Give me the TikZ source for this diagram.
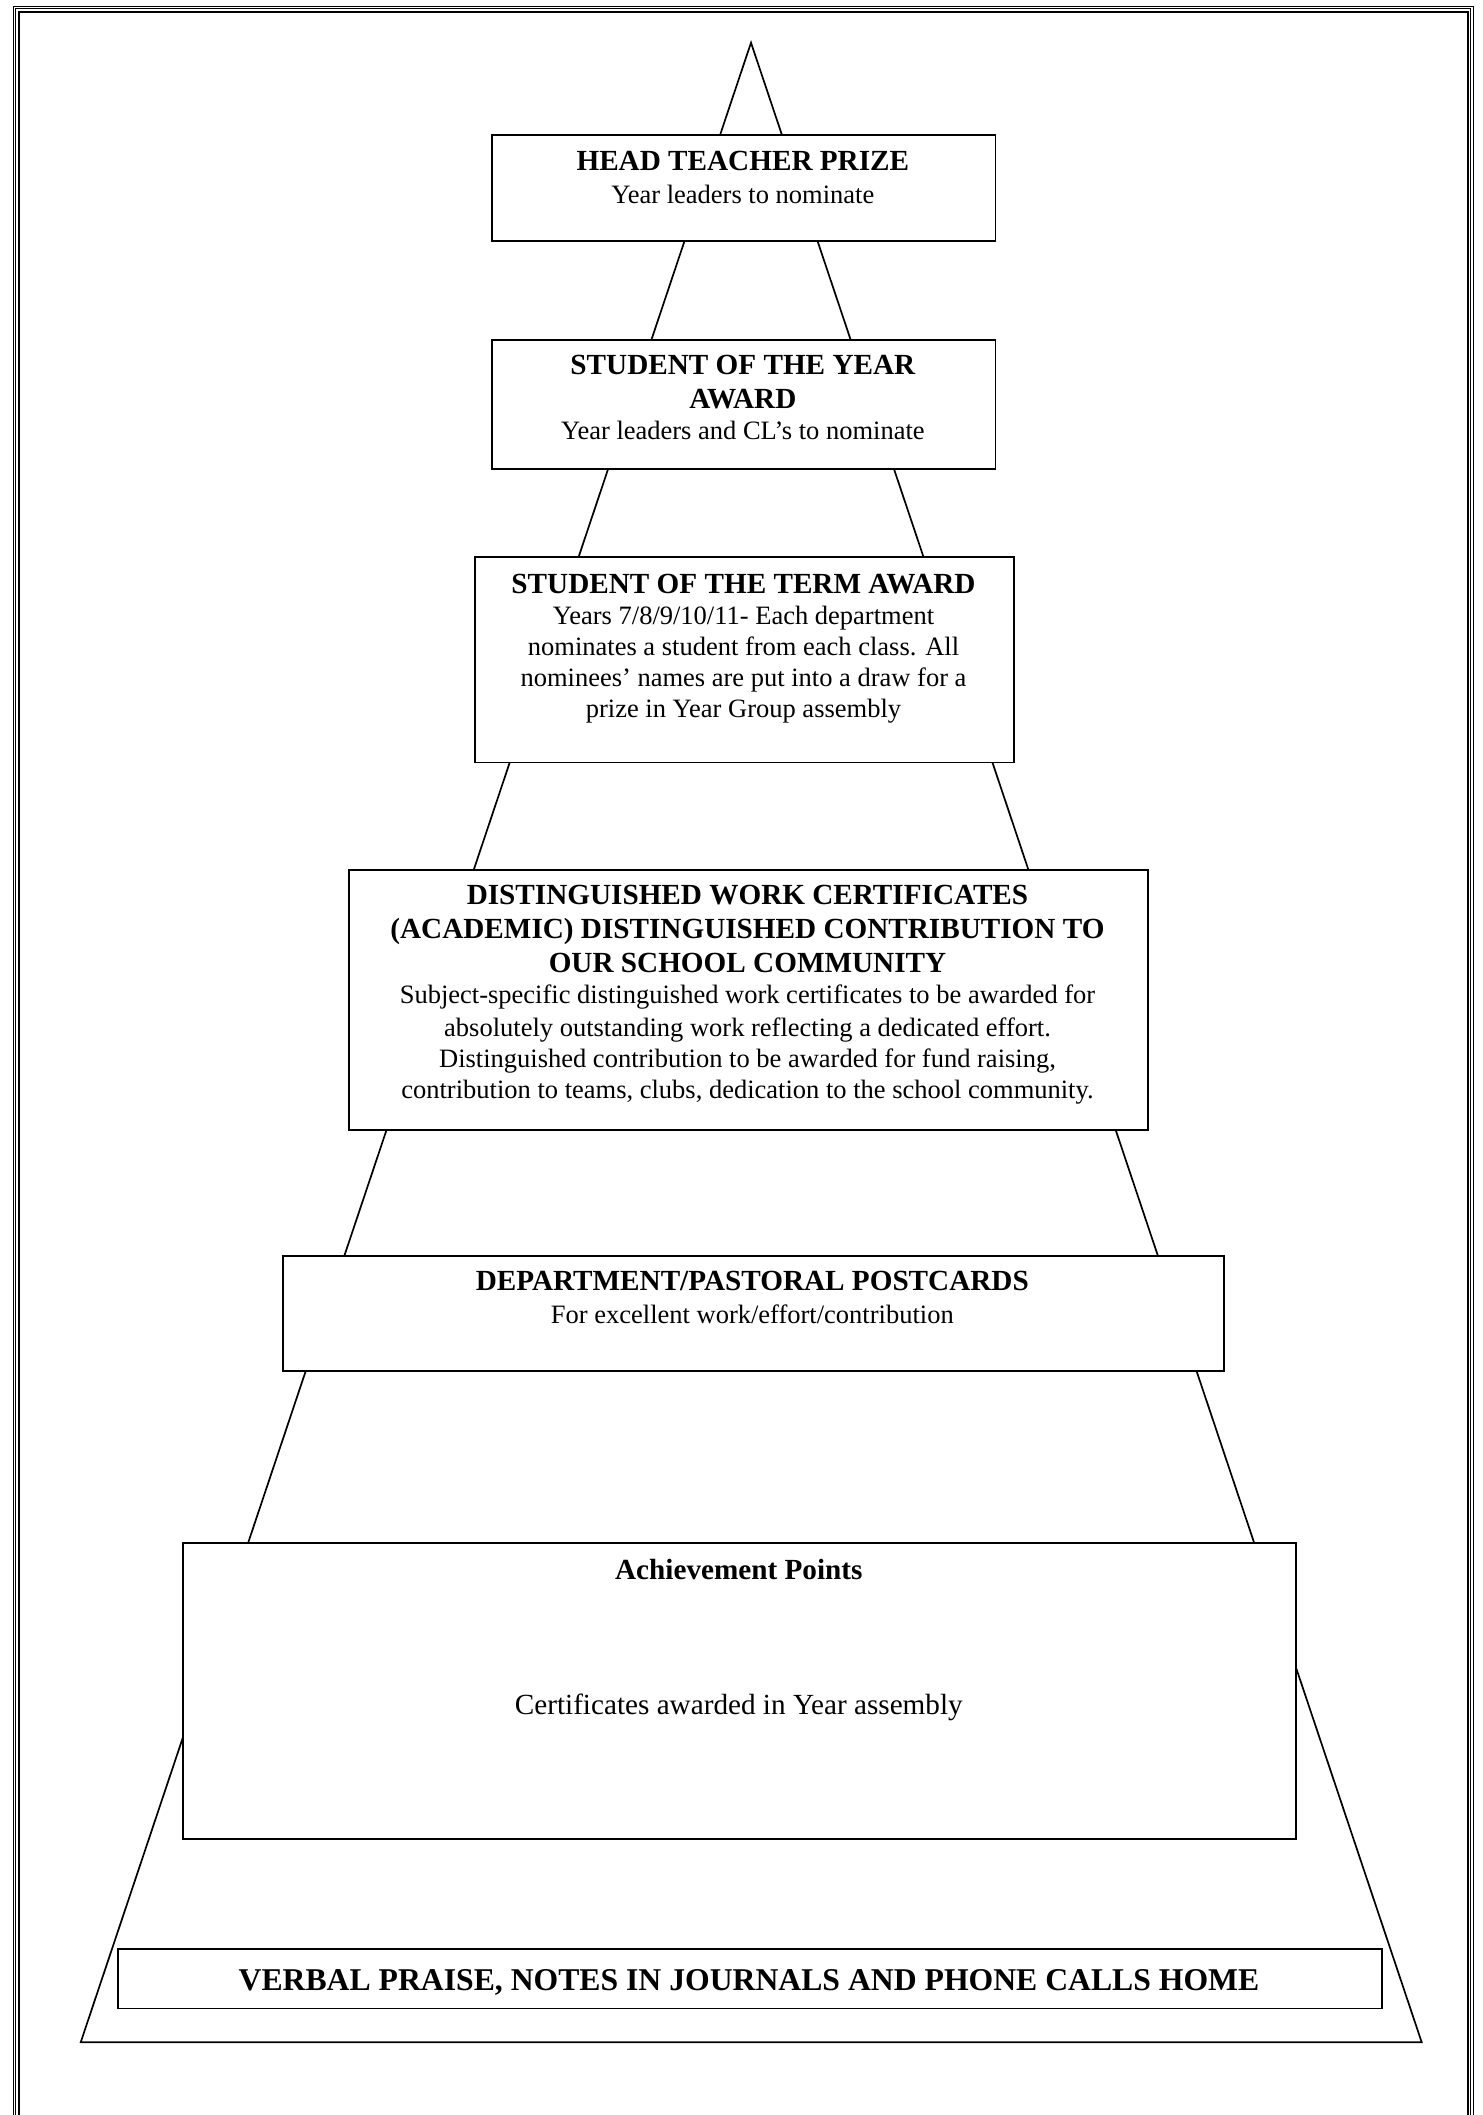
\documentclass[tikz,border=0pt]{standalone}
\usepackage{fontspec}
\setmainfont{Liberation Serif}
\tikzset{
  boxn/.style={draw, line width=1.9pt, fill=white, inner sep=0pt, anchor=north west},
  hd/.style={font=\fontsize{29.2pt}{33.7pt}\selectfont\bfseries, anchor=base, inner sep=0pt},
  bd/.style={font=\fontsize{26.5pt}{30.5pt}\selectfont, anchor=base, inner sep=0pt},
  bdl/.style={font=\fontsize{29.2pt}{33.7pt}\selectfont, anchor=base, inner sep=0pt},
  hdl/.style={font=\fontsize{31.7pt}{36pt}\selectfont\bfseries, anchor=base, inner sep=0pt},
  thinb/.style={line width=0.8pt},
  thickb/.style={line width=2pt},
  tri/.style={line width=1.7pt, line join=miter}
}
\begin{document}
\begin{tikzpicture}[x=1pt,y=-1pt]
\useasboundingbox (0,0) rectangle (1483,2115);
\clip (0,0) rectangle (1483,2115);
% page border
\draw[thinb] (13.6,6.3) rectangle (1473,2140);
\draw[thinb] (15.8,8.4) rectangle (1470.8,2140);
\draw[thickb] (19.2,12) rectangle (1467.8,2140);
% pyramid
\coordinate (apex) at (751,42.7);
\coordinate (bl) at (80.7,2042.3);
\coordinate (br) at (1421.7,2042.3);
\draw[tri] (apex) -- (bl) -- (br) -- cycle;
% boxes
\node[boxn, minimum width=503.3pt, minimum height=106.4pt] (b1) at (491.2,133.6) {};
\node[boxn, minimum width=503.3pt, minimum height=129.5pt] (b2) at (491.2,338.7) {};
\node[boxn, minimum width=539.8pt, minimum height=205.5pt] (b3) at (473.6,556) {};
\node[boxn, minimum width=798.9pt, minimum height=260.4pt] (b4) at (348.1,869) {};
\node[boxn, minimum width=940.6pt, minimum height=114.6pt] (b5) at (282,1255) {};
\node[boxn, minimum width=1113.2pt, minimum height=295.5pt] (b6) at (182.2,1542.4) {};
\node[boxn, minimum width=1263.2pt, minimum height=59.1pt] (b7) at (117.4,1948.4) {};
% texts
\node[hd] (t1a) at (742.85,170) {HEAD TEACHER PRIZE};
\node[bd] (t1b) at (742.85,203) {Year leaders to nominate};
\node[hd] (t2a) at (742.85,374) {STUDENT OF THE YEAR};
\node[hd] (t2b) at (742.85,408) {AWARD};
\node[bd] (t2c) at (742.85,439) {Year leaders and CL’s to nominate};
\node[hd] (t3a) at (743.5,593) {STUDENT OF THE TERM AWARD};
\node[bd] (t3b) at (743.5,624) {Years 7/8/9/10/11- Each department};
\node[bd] (t3c) at (743.5,655) {nominates a student from each class. All};
\node[bd] (t3d) at (743.5,686) {nominees’ names are put into a draw for a};
\node[bd] (t3e) at (743.5,717) {prize in Year Group assembly};
\node[hd] (t4a) at (747.5,904.5) {DISTINGUISHED WORK CERTIFICATES};
\node[hd] (t4b) at (747.5,938) {(ACADEMIC) DISTINGUISHED CONTRIBUTION TO};
\node[hd] (t4c) at (747.5,972) {OUR SCHOOL COMMUNITY};
\node[bd] (t4d) at (747.5,1003.5) {Subject-specific distinguished work certificates to be awarded for};
\node[bd] (t4e) at (747.5,1036) {absolutely outstanding work reflecting a dedicated effort.};
\node[bd] (t4f) at (747.5,1067) {Distinguished contribution to be awarded for fund raising,};
\node[bd] (t4g) at (747.5,1098) {contribution to teams, clubs, dedication to the school community.};
\node[hd] (t5a) at (752.3,1290.5) {DEPARTMENT/PASTORAL POSTCARDS};
\node[bd] (t5b) at (752.3,1323) {For excellent work/effort/contribution};
\node[hd] (t6a) at (738.8,1579) {Achievement Points};
\node[bdl] (t6b) at (738.8,1714) {Certificates awarded in Year assembly};
\node[hdl] (t7a) at (749,1990) {VERBAL PRAISE, NOTES IN JOURNALS AND PHONE CALLS HOME};
\end{tikzpicture}
\end{document}
